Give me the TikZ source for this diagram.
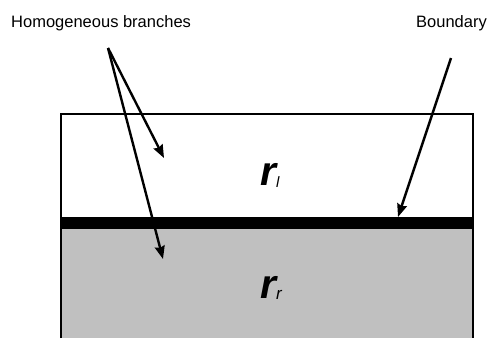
\documentclass[tikz,border=0pt]{standalone}
\usepackage{fontspec}
\setmainfont{Liberation Sans}
\usetikzlibrary{arrows.meta,positioning}
\definecolor{RegionGrey}{HTML}{C0C0C0}

\begin{document}
\begin{tikzpicture}[
        x=1pt, y=-1pt,
        font=\fontsize{16.5}{19}\selectfont,
        caption/.style={inner sep=0pt},
        sym/.style={inner sep=0pt, anchor=base west, font=\fontsize{41}{41}\selectfont\bfseries\itshape},
        pointer/.style={-{Stealth[length=13pt,width=10pt,inset=1.5pt]}, line width=2.4pt},
        edge/.style={line width=1.4pt},
    ]
    \useasboundingbox (0,0) rectangle (489,338);

    \fill[RegionGrey] (61,228) rectangle (473,338);
    \draw[edge] (61,338) -- (61,114) -- (473,114) -- (473,338);
    \fill (61,217) rectangle (474,229);

    \node[caption, anchor=base west] (homog) at (11,27) {Homogeneous branches};
    \node[caption, anchor=base east] (bound) at (487,27) {Boundary};

    \node[sym] (rl) at (260,185) {r\raisebox{-2pt}{\fontsize{15}{15}\selectfont\mdseries l}};
    \node[sym] (rr) at (260,298) {r\raisebox{-1pt}{\fontsize{17}{17}\selectfont\mdseries r}};

    \coordinate (hstart) at (108,48);
    \coordinate (bstart) at (451,58);
    \coordinate (upper) at (164,158);
    \coordinate (lower) at (163,259);
    \coordinate (band) at (398,217);

    \draw[pointer] (hstart) -- (upper);
    \draw[pointer] (hstart) -- (lower);
    \draw[pointer] (bstart) -- (band);
\end{tikzpicture}
\end{document}
